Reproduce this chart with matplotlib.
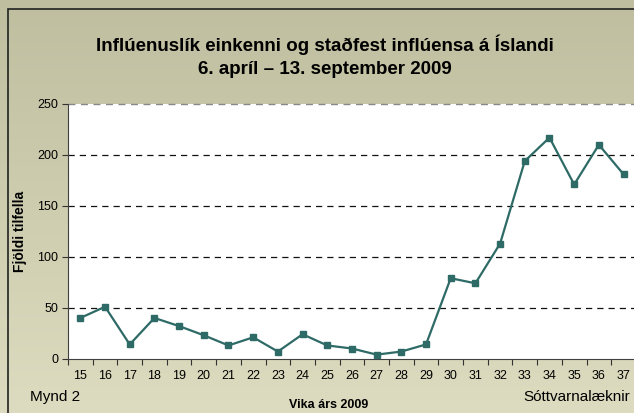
import matplotlib.pyplot as plt
import numpy as np
from matplotlib.patches import Rectangle

plt.rcParams['font.family'] = ['Liberation Sans', 'DejaVu Sans']

# weekly case counts
weeks = list(range(15, 38))
cases = [40, 51, 14, 40, 32, 23, 13, 21, 7, 24, 13, 10, 4, 7, 14,
         79, 74, 113, 194, 217, 171, 210, 181]
yticks = [0, 50, 100, 150, 200, 250]

fig = plt.figure(figsize=(6.34, 4.13), dpi=100)

# khaki gradient background
bg = fig.add_axes([0, 0, 1, 1], zorder=-2)
grad = np.linspace(0, 1, 256).reshape(-1, 1)
top = np.array([0.749, 0.745, 0.624])
bot = np.array([0.866, 0.862, 0.752])
img = top + (bot - top) * grad[:, :, None]
bg.imshow(img, aspect='auto', extent=[0, 1, 0, 1])
bg.set_xlim(0, 1)
bg.set_ylim(0, 1)
bg.axis('off')
fig.patches.append(Rectangle((8 / 634, -0.1), 1.2, 1 - 9 / 413 + 0.1,
                             transform=fig.transFigure, fill=False,
                             edgecolor='#222222', lw=1.2))

ax = fig.add_axes([68 / 634, 1 - 358.7 / 413, 1.003 - 68 / 634, (358.7 - 104) / 413])
ax.set_facecolor('white')
ax.plot(weeks, cases, '-s', color='#2e6a66', lw=1.6, ms=5, zorder=3)

ax.set_xlim(14.5, 37.5)
ax.set_ylim(0, 250)
ax.set_yticks(yticks)
ax.set_xticks(np.arange(14.5, 38, 1))
ax.set_xticklabels([])
ax.set_xticks(weeks, minor=True)
ax.set_xticklabels([str(w) for w in weeks], minor=True)
ax.tick_params(axis='x', which='minor', length=0, pad=8, labelsize=9)
ax.tick_params(axis='x', which='major', length=4, color='#333333')
ax.tick_params(axis='y', length=4, labelsize=9, color='#333333', pad=3)

for y in yticks[1:-1]:
    ax.axhline(y, color='#111111', lw=0.9, ls=(0, (5, 4)), zorder=1)
ax.axhline(250, color='#888888', lw=1.0, ls=(0, (5, 4)), zorder=1, clip_on=False)

for s in ['top', 'right']:
    ax.spines[s].set_visible(False)
ax.spines['left'].set_color('#404040')
ax.spines['bottom'].set_color('#404040')

fig.text(20 / 634, 1 - 231 / 413, 'Fjöldi tilfella', rotation=90, ha='center',
         va='center', fontsize=10, fontweight='bold')

fig.text(0.513, 1 - 45 / 413, 'Inflúenuslík einkenni og staðfest inflúensa á Íslandi',
         ha='center', va='center', fontsize=13.5, fontweight='bold')
fig.text(0.513, 1 - 70 / 413, '6. apríl – 13. september 2009',
         ha='center', va='center', fontsize=13.5, fontweight='bold')
fig.text(30 / 634, 1 - 397 / 413, 'Mynd 2', ha='left', va='center', fontsize=11)
fig.text(329 / 634, 1 - 405 / 413, 'Vika árs 2009', ha='center', va='center',
         fontsize=9, fontweight='bold')
fig.text(630 / 634, 1 - 397 / 413, 'Sóttvarnalæknir', ha='right', va='center', fontsize=11)

fig.savefig('out.png', dpi=100)
